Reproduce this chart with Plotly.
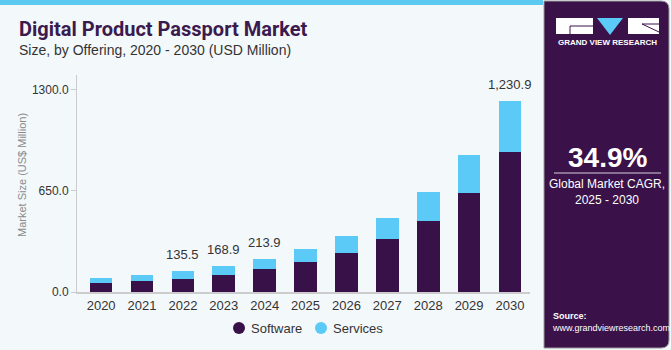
import plotly.graph_objects as go

# ---- data ----
years = ["2020", "2021", "2022", "2023", "2024", "2025", "2026", "2027", "2028", "2029", "2030"]
software = [56, 69, 84, 111, 146, 190, 251, 338, 459, 637, 901]
services = [32, 40, 51.5, 57.9, 67.9, 87, 109, 136, 184, 242, 329.9]
label_years = ["2022", "2023", "2024", "2030"]
label_texts = ["135.5", "168.9", "213.9", "1,230.9"]
y_ticks = [0, 650, 1300]
y_ticktext = ["0.0", "650.0", "1300.0"]
series_names = ["Software", "Services"]

DARK = "#371148"
BLUE = "#5ccaf6"
PANEL = "#3a1249"
BG = "#f3f8fb"
FONT = "Liberation Sans"

FW, FH = 671, 350
L, R, T, B = 77, 141, 75, 58
W = FW - L - R
H = FH - T - B


def px(x):
    return (x - L) / W


def py(y):
    return (FH - B - y) / H


fig = go.Figure()
fig.add_trace(go.Bar(x=years, y=software, name=series_names[0], marker=dict(color=DARK, line=dict(width=0))))
fig.add_trace(go.Bar(x=years, y=services, name=series_names[1], marker=dict(color=BLUE, line=dict(width=0))))

totals = {y: s + v for y, s, v in zip(years, software, services)}
annotations = []
for yr, txt in zip(label_years, label_texts):
    annotations.append(dict(x=years.index(yr), y=totals[yr], xref="x", yref="y", text=txt, showarrow=False,
                            yanchor="bottom", yshift=7, font=dict(family=FONT, size=13, color="#333333")))

# titles
annotations.append(dict(x=px(17), y=py(29), xref="paper", yref="paper", text="<b>Digital Product Passport Market</b>",
                        showarrow=False, xanchor="left", yanchor="middle",
                        font=dict(family="Roboto", size=20, color="#3b1a4d", weight=900)))
annotations.append(dict(x=px(17), y=py(50), xref="paper", yref="paper",
                        text="Size, by Offering, 2020 - 2030 (USD Million)",
                        showarrow=False, xanchor="left", yanchor="middle",
                        font=dict(family=FONT, size=14, color="#333333")))
annotations.append(dict(x=px(22), y=py(175), xref="paper", yref="paper", text="Market Size (US$ Million)",
                        showarrow=False, textangle=-90, xanchor="center", yanchor="middle",
                        font=dict(family=FONT, size=11, color="#8a8a8a")))
# right panel texts
annotations.append(dict(x=px(607), y=py(43), xref="paper", yref="paper", text="<b>GRAND VIEW RESEARCH</b>",
                        showarrow=False, xanchor="center", yanchor="middle",
                        font=dict(family=FONT, size=8, color="white")))
annotations.append(dict(x=px(607), y=py(157), xref="paper", yref="paper", text="<b>34.9%</b>",
                        showarrow=False, xanchor="center", yanchor="middle",
                        font=dict(family=FONT, size=28, color="white")))
annotations.append(dict(x=px(607), y=py(192), xref="paper", yref="paper",
                        text="Global Market CAGR,<br>2025 - 2030",
                        showarrow=False, xanchor="center", yanchor="middle",
                        font=dict(family=FONT, size=12, color="white")))
annotations.append(dict(x=px(550), y=py(322), xref="paper", yref="paper",
                        text="<b>Source:</b><br>www.grandviewresearch.com", align="left",
                        showarrow=False, xanchor="left", yanchor="middle",
                        font=dict(family=FONT, size=9, color="white")))

shapes = []
# manual legend (circle markers)
for name, color, cx in zip(series_names, [DARK, BLUE], [239, 321]):
    shapes.append(dict(type="circle", xref="paper", yref="paper", xsizemode="pixel", ysizemode="pixel",
                       xanchor=px(cx), yanchor=py(328), x0=-6, x1=6, y0=-6, y1=6,
                       fillcolor=color, line=dict(width=0)))
    annotations.append(dict(x=px(cx + 10), y=py(328), xref="paper", yref="paper", text=name,
                            showarrow=False, xanchor="left", yanchor="middle",
                            font=dict(family=FONT, size=13, color="#333333")))

# top blue strip
shapes.append(dict(type="rect", xref="paper", yref="paper", x0=px(0), x1=px(543), y0=py(0), y1=py(5),
                   fillcolor="#5ccaf0", line=dict(width=0), layer="below"))
# right panel with rounded right corners
x0, x1, y0, y1, r = px(544), px(669), py(1), py(348), 8
rx, ry = r / W, r / H
path = (f"M {x0},{y0} L {x1 - rx},{y0} Q {x1},{y0} {x1},{y0 - ry} "
        f"L {x1},{y1 + ry} Q {x1},{y1} {x1 - rx},{y1} L {x0},{y1} Z")
shapes.append(dict(type="path", xref="paper", yref="paper", path=path, fillcolor=PANEL,
                   line=dict(color="#9a9a9a", width=1), layer="below"))
# logo
shapes.append(dict(type="rect", xref="paper", yref="paper", x0=px(556), x1=px(593), y0=py(18), y1=py(34),
                   fillcolor="white", line=dict(width=0)))
shapes.append(dict(type="path", xref="paper", yref="paper",
                   path=f"M {px(597)},{py(18)} L {px(623)},{py(18)} L {px(610)},{py(35)} Z",
                   fillcolor="#5ccaf6", line=dict(width=0)))
shapes.append(dict(type="rect", xref="paper", yref="paper", x0=px(628), x1=px(659), y0=py(18), y1=py(34),
                   fillcolor="white", line=dict(width=0)))
shapes.append(dict(type="line", xref="paper", yref="paper", x0=px(570), x1=px(593), y0=py(26), y1=py(26),
                   line=dict(color=PANEL, width=1)))
shapes.append(dict(type="line", xref="paper", yref="paper", x0=px(570), x1=px(570), y0=py(26), y1=py(34),
                   line=dict(color=PANEL, width=1)))
shapes.append(dict(type="line", xref="paper", yref="paper", x0=px(642), x1=px(659), y0=py(24), y1=py(32),
                   line=dict(color=PANEL, width=1)))
shapes.append(dict(type="line", xref="paper", yref="paper", x0=px(642), x1=px(659), y0=py(24), y1=py(24),
                   line=dict(color=PANEL, width=1)))
# divider line under CAGR
shapes.append(dict(type="line", xref="paper", yref="paper", x0=px(554), x1=px(661), y0=py(173), y1=py(173),
                   line=dict(color="#d8d0e0", width=1.2)))

fig.update_layout(
    width=FW, height=FH,
    margin=dict(l=L, r=R, t=T, b=B, pad=0),
    paper_bgcolor=BG, plot_bgcolor=BG,
    barmode="stack", bargap=0.445, showlegend=False,
    font=dict(family=FONT, size=12, color="#333333"),
    xaxis=dict(type="category", range=[-0.59, 10.49], showline=True, linecolor="#cccccc", linewidth=2,
               ticks="", tickfont=dict(size=13, color="#333333"), showgrid=False, zeroline=False),
    yaxis=dict(range=[0, 1396], tickvals=y_ticks, ticktext=y_ticktext, showline=True, linecolor="#cccccc",
               linewidth=1, ticks="outside", ticklen=5, tickcolor="#cccccc", showgrid=False, zeroline=False,
               tickfont=dict(size=12, color="#333333")),
    annotations=annotations,
    shapes=shapes,
)

fig.write_html("out.html")
